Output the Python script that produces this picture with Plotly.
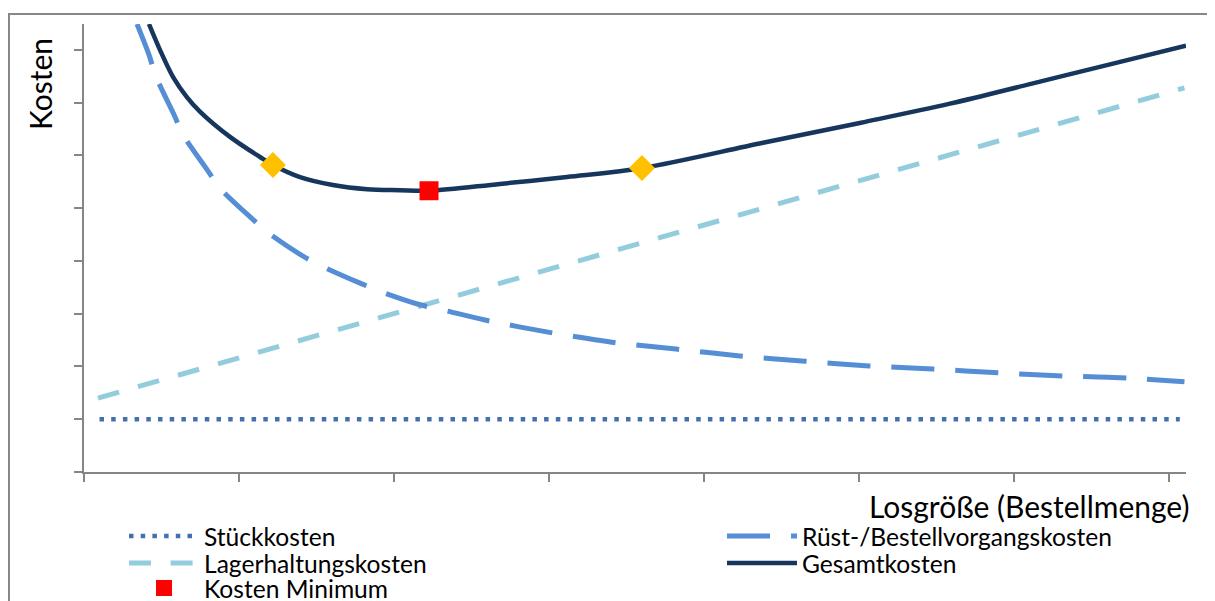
import plotly.graph_objects as go

# ---- data (arbitrary units) ----
stueck_x = [0.10, 7.07]
stueck_y = [1.0, 1.0]

lager_x = [0.09, 7.10]
lager_y = [1.40, 7.28]

ruest_x = [0.342, 0.419, 0.465, 0.581, 0.639, 0.794, 0.877, 1.077, 1.181, 1.413,
           1.542, 1.781, 1.923, 2.168, 2.316, 2.587, 2.994, 3.406, 3.819, 4.232,
           4.652, 5.065, 5.477, 5.897, 6.316, 6.735, 7.10]
ruest_y = [8.49, 7.91, 7.49, 6.77, 6.39, 5.73, 5.38, 4.82, 4.55, 4.09,
           3.89, 3.58, 3.41, 3.17, 3.07, 2.88, 2.65, 2.46, 2.33, 2.20,
           2.10, 2.01, 1.95, 1.88, 1.82, 1.78, 1.71]

gesamt_x = [0.419, 0.490, 0.574, 0.665, 0.748, 0.942, 1.135, 1.219, 1.394, 1.606,
            1.826, 2.039, 2.226, 2.684, 3.116, 3.600, 4.381, 5.013, 5.587, 6.116,
            6.639, 7.11]
gesamt_y = [8.49, 8.00, 7.49, 7.10, 6.83, 6.35, 5.97, 5.82, 5.59, 5.44,
            5.36, 5.34, 5.33, 5.46, 5.59, 5.76, 6.24, 6.62, 6.98, 7.36,
            7.74, 8.08]

min_x = [2.226]
min_y = [5.33]

limits_x = [1.219, 3.600]
limits_y = [5.82, 5.76]

x_ticks = [0, 1, 2, 3, 4, 5, 6, 7]
y_ticks = [0, 1, 2, 3, 4, 5, 6, 7, 8]

# ---- figure ----
FONT = "Lato"
fig = go.Figure()

fig.add_trace(go.Scatter(x=stueck_x, y=stueck_y, mode="lines", name="Stückkosten",
                         line=dict(color="#4470AE", width=4.5, dash="4.5px,7.2px"),
                         legend="legend"))
fig.add_trace(go.Scatter(x=lager_x, y=lager_y, mode="lines", name="Lagerhaltungskosten",
                         line=dict(color="#93CDDD", width=5, dash="22px,19.6px"),
                         legend="legend2"))
fig.add_trace(go.Scatter(x=ruest_x, y=ruest_y, mode="lines", name="Rüst-/Bestellvorgangskosten",
                         line=dict(color="#558ED5", width=5, dash="43px,21px", shape="spline", smoothing=0.8),
                         legend="legend4"))
fig.add_trace(go.Scatter(x=gesamt_x, y=gesamt_y, mode="lines", name="Gesamtkosten",
                         line=dict(color="#17365D", width=4.5, shape="spline", smoothing=1.0),
                         legend="legend5"))
fig.add_trace(go.Scatter(x=limits_x, y=limits_y, mode="markers", showlegend=False,
                         marker=dict(symbol="diamond", size=20, color="#FFC000")))
fig.add_trace(go.Scatter(x=min_x, y=min_y, mode="markers", name="Kosten Minimum",
                         marker=dict(symbol="square", size=19, color="#FF0000"),
                         legend="legend3"))

axis_common = dict(showgrid=False, zeroline=False, showline=True, linecolor="#868686",
                   linewidth=2, ticks="outside", tickcolor="#868686", tickwidth=2,
                   ticklen=8, showticklabels=False)

fig.update_xaxes(range=[0, 7.11], tickvals=x_ticks, **axis_common)
fig.update_yaxes(range=[0, 8.49], tickvals=y_ticks, **axis_common)

# page coordinates of the plot area; the page body adds an 8px offset
OFF = 8
L, R, T, B = 84 - OFF, 1186 - OFF, 24 - OFF, 472 - OFF
W, H = 1215 - OFF, 601 - OFF

def px(xp):
    return (xp - OFF - L) / (R - L)

def py(yp):
    return (B - (yp - OFF)) / (B - T)

def leg(xp, yp):
    return dict(orientation="v", xref="paper", yref="paper", xanchor="left", yanchor="middle",
                x=px(xp), y=py(yp),
                font=dict(family=FONT, size=24.6, color="#000000"), itemwidth=70,
                bgcolor="rgba(0,0,0,0)", borderwidth=0, itemclick=False)

fig.update_layout(
    width=W, height=H,
    margin=dict(l=L, r=W - R, t=T, b=H - B, autoexpand=False),
    paper_bgcolor="white", plot_bgcolor="white",
    font=dict(family=FONT, color="#000000"),
    legend=leg(124, 536),
    legend2=leg(124, 563),
    legend3=leg(124, 588),
    legend4=leg(722, 536),
    legend5=leg(722, 563),
    shapes=[dict(type="rect", xref="paper", yref="paper",
                 x0=px(9), x1=px(1240), y0=py(640), y1=py(14),
                 line=dict(color="#878787", width=2), fillcolor="rgba(0,0,0,0)", layer="below")],
    annotations=[
        dict(text="Kosten", xref="paper", yref="paper", x=px(40), y=py(84),
             xanchor="center", yanchor="middle", textangle=-90, showarrow=False,
             font=dict(family=FONT, size=30, color="#000000")),
        dict(text="Losgröße (Bestellmenge)", xref="paper", yref="paper", x=px(1192), y=py(506),
             xanchor="right", yanchor="middle", showarrow=False,
             font=dict(family=FONT, size=30, color="#000000")),
    ],
)

fig.write_html("out.html")
